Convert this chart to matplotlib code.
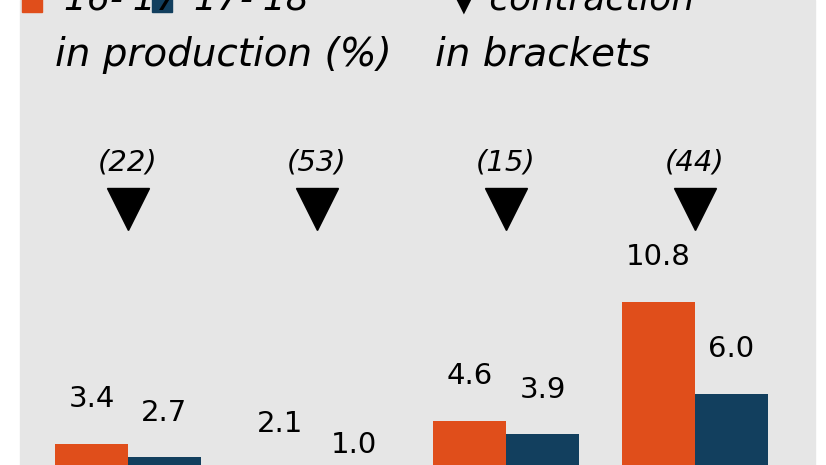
import matplotlib.pyplot as plt
from matplotlib.patches import Rectangle

# data
groups = ["A", "B", "C", "D"]
v1617 = [3.4, 2.1, 4.6, 10.8]
v1718 = [2.7, 1.0, 3.9, 6.0]
contraction = ["(22)", "(53)", "(15)", "(44)"]

orange = "#E04E1B"
blue = "#123F5E"
fam = ["Liberation Sans Narrow", "DejaVu Sans"]
plt.rcParams["font.family"] = fam

fig = plt.figure(figsize=(8.26, 4.65), dpi=100)
fig.patch.set_facecolor("white")
fig.patches.append(Rectangle((20 / 826, 0), 795 / 826, 1, transform=fig.transFigure,
                             color="#E6E6E6", zorder=0))
ax = fig.add_axes([0, 0, 1, 1])
ax.set_zorder(2)
ax.set_facecolor("none")
ax.set_xlim(-0.677, 3.693)
ax.set_ylim(1.3, 25.5)
ax.axis("off")

w = 0.386
for i in range(len(groups)):
    ax.bar(i - w / 2, v1617[i], w, bottom=-1, color=orange)
    ax.bar(i + w / 2, v1718[i], w, bottom=-1, color=blue)
    ax.text(i - w / 2, v1617[i] + 0.6, f"{v1617[i]:.1f}", ha="center", va="bottom", fontsize=21)
    ax.text(i + w / 2, v1718[i] + 0.6, f"{v1718[i]:.1f}", ha="center", va="bottom", fontsize=21)
    ax.plot(i, 14.6, marker="v", markersize=30, color="black")
    ax.text(i, 16.3, contraction[i], ha="center", va="bottom", fontsize=21, style="italic")

# legend (cut at top)
fig.text(55 / 826, 1.0, "'16-'17", fontsize=26, style="italic", va="center", zorder=3)
fig.text(185 / 826, 1.0, "'17-'18*", fontsize=26, style="italic", va="center", zorder=3)
fig.text(450 / 826, 1.0, "\u25BC contraction", fontsize=26, style="italic", va="center", zorder=3)
fig.text(55 / 826, 1 - 55 / 465, "in production (%)", fontsize=28, style="italic", va="center", zorder=3)
fig.text(435 / 826, 1 - 55 / 465, "in brackets", fontsize=28, style="italic", va="center", zorder=3)
fig.patches.append(Rectangle((22 / 826, 0.975), 20 / 826, 0.04, transform=fig.transFigure,
                             color=orange, zorder=3))
fig.patches.append(Rectangle((152 / 826, 0.975), 20 / 826, 0.04, transform=fig.transFigure,
                             color=blue, zorder=3))

fig.savefig("out.png", dpi=100)
